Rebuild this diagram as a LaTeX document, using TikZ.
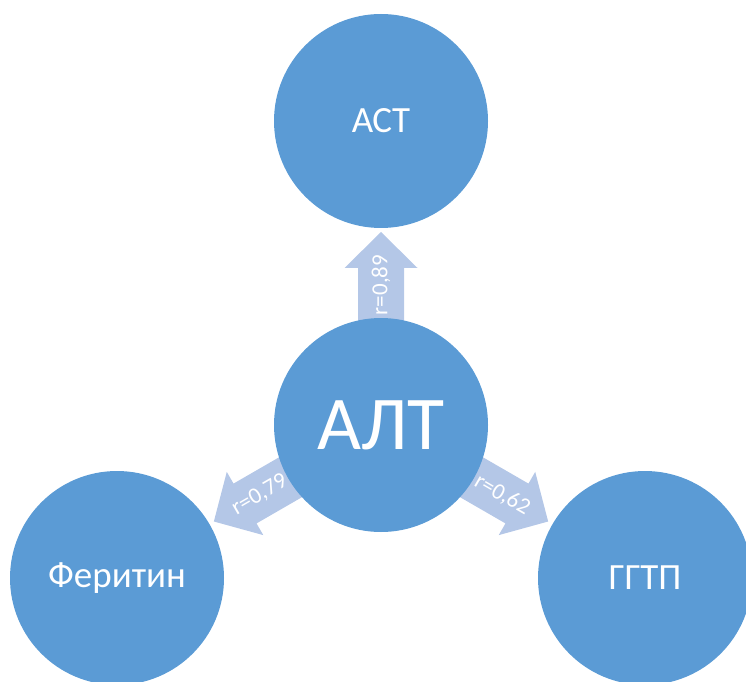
\documentclass[tikz,border=0pt]{standalone}
\usepackage{fontspec}
\setmainfont{Carlito}
\usetikzlibrary{calc}
\definecolor{circblue}{HTML}{5B9BD5}
\definecolor{arrowblue}{HTML}{B4C7E7}
\tikzset{
  bubble/.style={circle, fill=circblue, draw=none, minimum size=214pt, inner sep=0pt, text=white},
  blockarrow/.style={fill=arrowblue, draw=none},
  corrlabel/.style={text=white, font=\fontsize{23}{26}\selectfont, inner sep=0pt}
}
\begin{document}
\begin{tikzpicture}[x=1pt,y=1pt]
\useasboundingbox (0,0) rectangle (746,681);
\coordinate (c) at (381,256);
% block arrows from the central circle
\foreach \ang/\txt/\rot in {90/{r=0,89}/90, 210/{r=0,79}/30, 330/{r=0,62}/-30}{
  \begin{scope}[shift={(c)}, rotate=\ang]
    \fill[blockarrow] (100,-23) -- (157,-23) -- (157,-36.5) -- (193,0)
      -- (157,36.5) -- (157,23) -- (100,23) -- cycle;
  \end{scope}
  \node[corrlabel, rotate=\rot] (lbl\ang) at ($(c)+(\ang:140)$) {\txt};
}
% circles
\node[bubble, font=\fontsize{76}{80}\selectfont] (alt) at (c) {АЛТ};
\node[bubble, font=\fontsize{37}{40}\selectfont] (ast) at (381,560) {АСТ};
\node[bubble, font=\fontsize{37}{40}\selectfont] (fer) at (117,103) {Феритин};
\node[bubble, font=\fontsize{37}{40}\selectfont] (ggtp) at (645,103) {ГГТП};
\end{tikzpicture}
\end{document}
